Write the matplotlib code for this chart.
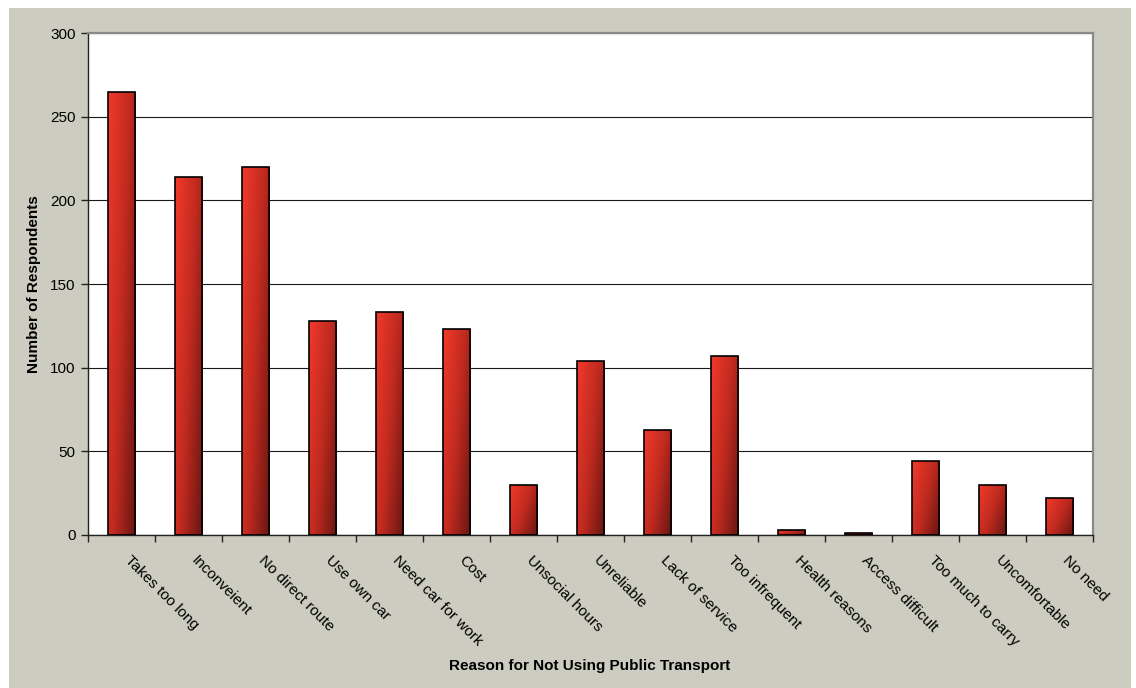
import numpy as np
import matplotlib
matplotlib.use("Agg")
import matplotlib.pyplot as plt
from matplotlib.colors import LinearSegmentedColormap
from matplotlib.patches import Rectangle
from matplotlib.transforms import ScaledTranslation

categories = ["Takes too long", "Inconveient", "No direct route", "Use own car",
              "Need car for work", "Cost", "Unsocial hours", "Unreliable",
              "Lack of service", "Too infrequent", "Health reasons",
              "Access difficult", "Too much to carry", "Uncomfortable", "No need"]
respondents = [265, 214, 220, 128, 133, 123, 30, 104, 63, 107, 3, 1, 44, 30, 22]
y_ticks = [0, 50, 100, 150, 200, 250, 300]

plt.rcParams["font.family"] = ["Liberation Sans", "DejaVu Sans"]
plt.rcParams["font.size"] = 11

W, H = 1136, 688
fig = plt.figure(figsize=(W / 100, H / 100), dpi=100, facecolor="white")

# grey chart area
fig.patches.append(Rectangle((9 / W, 0), (1131 - 9) / W, 1 - 8 / H,
                             transform=fig.transFigure, facecolor="#CCCCC0",
                             edgecolor="none", zorder=-10))

ax = fig.add_axes([88 / W, 1 - 535 / H, (1093 - 88) / W, (535 - 33) / H])
ax.set_facecolor("white")

n = len(categories)
x = np.arange(n)
bar_w = 0.41
ax.set_xlim(-0.5, n - 0.5)
ax.set_ylim(0, 300)

cmap = LinearSegmentedColormap.from_list(
    "bar_red", ["#F23A2B", "#C02A1F", "#661612"])

# gradient running mostly left-to-right, with a lighter top-to-bottom component
gu, gv = np.meshgrid(np.linspace(0, 1, 64), np.linspace(0, 1, 256))
grad = 0.62 * gu + 0.38 * gv

bars = ax.bar(x, respondents, width=bar_w, facecolor="none",
              edgecolor="black", linewidth=1.2, zorder=3)
for b in bars:
    x0, y0 = b.get_x(), b.get_y()
    bw, bh = b.get_width(), b.get_height()
    im = ax.imshow(grad, cmap=cmap, vmin=0, vmax=1, aspect="auto",
                   extent=(x0, x0 + bw, y0, y0 + bh), origin="upper",
                   interpolation="bilinear", zorder=2)
    im.set_clip_path(b)

# grid
ax.set_yticks(y_ticks)
ax.yaxis.grid(True, color="#1a1a1a", linewidth=0.8, zorder=1)
ax.set_axisbelow(True)

# spines
for s in ("left", "bottom"):
    ax.spines[s].set_color("#222222")
    ax.spines[s].set_linewidth(1.0)
for s in ("top", "right"):
    ax.spines[s].set_color("#8a8a8a")
    ax.spines[s].set_linewidth(1.6)

ax.tick_params(axis="y", direction="out", length=5, width=1.0,
               color="#222222", pad=4, labelsize=11)

# x ticks at category boundaries, labels drawn rotated below
ax.set_xticks(np.arange(-0.5, n, 1.0))
ax.set_xticklabels([])
ax.tick_params(axis="x", direction="out", length=5, width=1.0, color="#222222")

off = ScaledTranslation(10 / 100, -18 / 100, fig.dpi_scale_trans)
for xi, lab in zip(x, categories):
    ax.text(xi, 0, lab, transform=ax.get_xaxis_transform() + off,
            rotation=-45, rotation_mode="anchor", ha="left", va="top",
            fontsize=11, color="black")

ax.set_ylabel("Number of Respondents", fontsize=11, fontweight="bold")
ax.yaxis.set_label_coords((34 - 88) / (1093 - 88), 0.5)
ax.yaxis.label.set_va("center")

fig.text(590 / W, 1 - 666 / H, "Reason for Not Using Public Transport",
         ha="center", va="center", fontsize=11, fontweight="bold")

fig.savefig("out.png", dpi=100, facecolor="white")
